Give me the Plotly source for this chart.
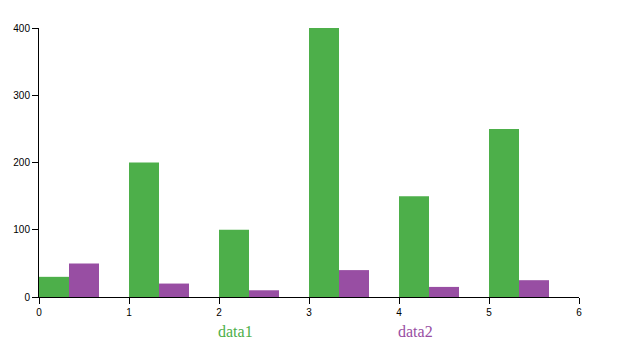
import plotly.graph_objects as go

categories = [0, 1, 2, 3, 4, 5]
data1 = [30, 200, 100, 400, 150, 250]
data2 = [50, 20, 10, 40, 15, 25]
series_names = ["data1", "data2"]
colors = ["#4daf4a", "#984ea3"]

fig = go.Figure()
fig.add_trace(go.Bar(x=categories, y=data1, name=series_names[0], width=1/3, offset=0,
                     marker=dict(color=colors[0], line=dict(width=0)), showlegend=False))
fig.add_trace(go.Bar(x=categories, y=data2, name=series_names[1], width=1/3, offset=1/3,
                     marker=dict(color=colors[1], line=dict(width=0)), showlegend=False))

for i, (n, c) in enumerate(zip(series_names, colors)):
    fig.add_annotation(text=n, x=(i + 1) / 3, y=-0.1264, xref="paper", yref="paper",
                       xanchor="left", yanchor="middle", showarrow=False, xshift=-3,
                       font=dict(family="Liberation Serif", size=16, color=c))

fig.update_layout(
    width=624, height=350,
    margin=dict(l=39, r=45, t=28, b=53),
    plot_bgcolor="white", paper_bgcolor="white",
    barmode="overlay",
    font=dict(family="Liberation Sans", size=10, color="black"),
    xaxis=dict(range=[0, 6], tickvals=[0, 1, 2, 3, 4, 5, 6], showgrid=False, zeroline=False,
               showline=True, linecolor="black", linewidth=1, ticks="outside", ticklen=6,
               tickcolor="black"),
    yaxis=dict(range=[0, 400], tickvals=[0, 100, 200, 300, 400], showgrid=False, zeroline=False,
               showline=True, linecolor="black", linewidth=1, ticks="outside", ticklen=6,
               tickcolor="black"),
)

fig.write_html("out.html")
